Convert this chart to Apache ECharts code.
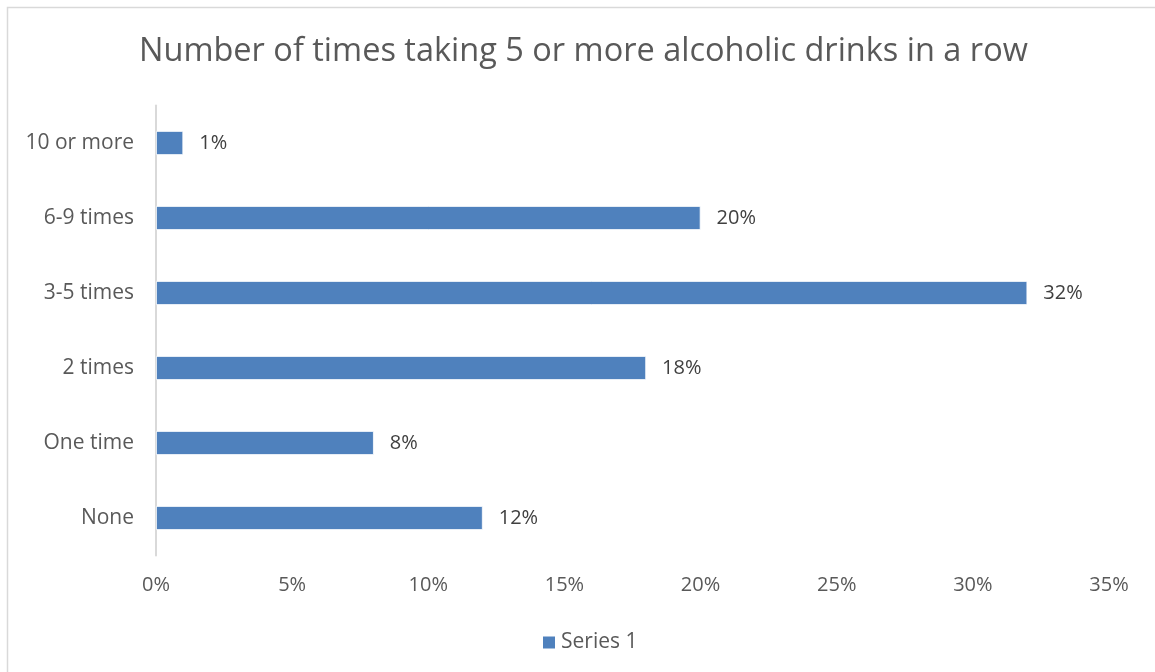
<!DOCTYPE html>
<html>
<head>
<meta charset="utf-8">
<script src="https://cdn.jsdelivr.net/npm/echarts@6/dist/echarts.min.js"></script>
<style>
  html, body { margin: 0; padding: 0; background: #fff; }
  #chart { width: 1155px; height: 672px; }
</style>
</head>
<body>
<div id="chart"></div>
<script>
// Survey answers, listed bottom to top as drawn on the category axis
const categories = ['None', 'One time', '2 times', '3-5 times', '6-9 times', '10 or more'];
const shares = [12, 8, 18, 32, 20, 1];
const xTicks = [0, 5, 10, 15, 20, 25, 30, 35];
const seriesName = 'Series 1';
const titleText = 'Number of times taking 5 or more alcoholic drinks in a row';

const FONT = '"Open Sans", "Noto Sans", sans-serif';
const TEXT = '#595959';

const chart = echarts.init(document.getElementById('chart'), null, { renderer: 'canvas' });

chart.setOption({
  backgroundColor: '#ffffff',
  animation: false,
  graphic: [{
    type: 'rect',
    shape: { x: 7.5, y: 7.5, width: 1160, height: 680 },
    style: { fill: 'none', stroke: '#d9d9d9', lineWidth: 1.5 },
    silent: true
  }],
  title: {
    text: titleText,
    left: 139,
    top: 35,
    padding: 0,
    textStyle: { fontFamily: FONT, fontSize: 32.5, fontWeight: 'normal', color: TEXT }
  },
  legend: {
    top: 627,
    left: 536,
    itemWidth: 14,
    itemHeight: 14,
    icon: 'rect',
    itemGap: 6,
    textStyle: { fontFamily: FONT, fontSize: 21, color: TEXT },
    data: [seriesName]
  },
  grid: { left: 156, right: 46, top: 105.5, bottom: 116.5, containLabel: false },
  xAxis: {
    type: 'value',
    min: xTicks[0],
    max: xTicks[xTicks.length - 1],
    interval: 5,
    axisLine: { show: false },
    axisTick: { show: false },
    splitLine: { show: false },
    axisLabel: {
      formatter: v => v + '%',
      margin: 20,
      fontFamily: FONT, fontSize: 20, color: TEXT
    }
  },
  yAxis: {
    type: 'category',
    data: categories,
    axisLine: { show: true, lineStyle: { color: '#d9d9d9', width: 2 } },
    axisTick: { show: false },
    axisLabel: { margin: 22, fontFamily: FONT, fontSize: 21, color: TEXT }
  },
  series: [{
    name: seriesName,
    type: 'bar',
    data: shares,
    barWidth: 24,
    itemStyle: { color: '#4f81bd', borderColor: '#ffffff', borderWidth: 0.8 },
    label: {
      show: true,
      position: 'right',
      distance: 16,
      formatter: p => p.value + '%',
      fontFamily: FONT, fontSize: 20, color: '#404040'
    }
  }]
});
</script>
</body>
</html>
